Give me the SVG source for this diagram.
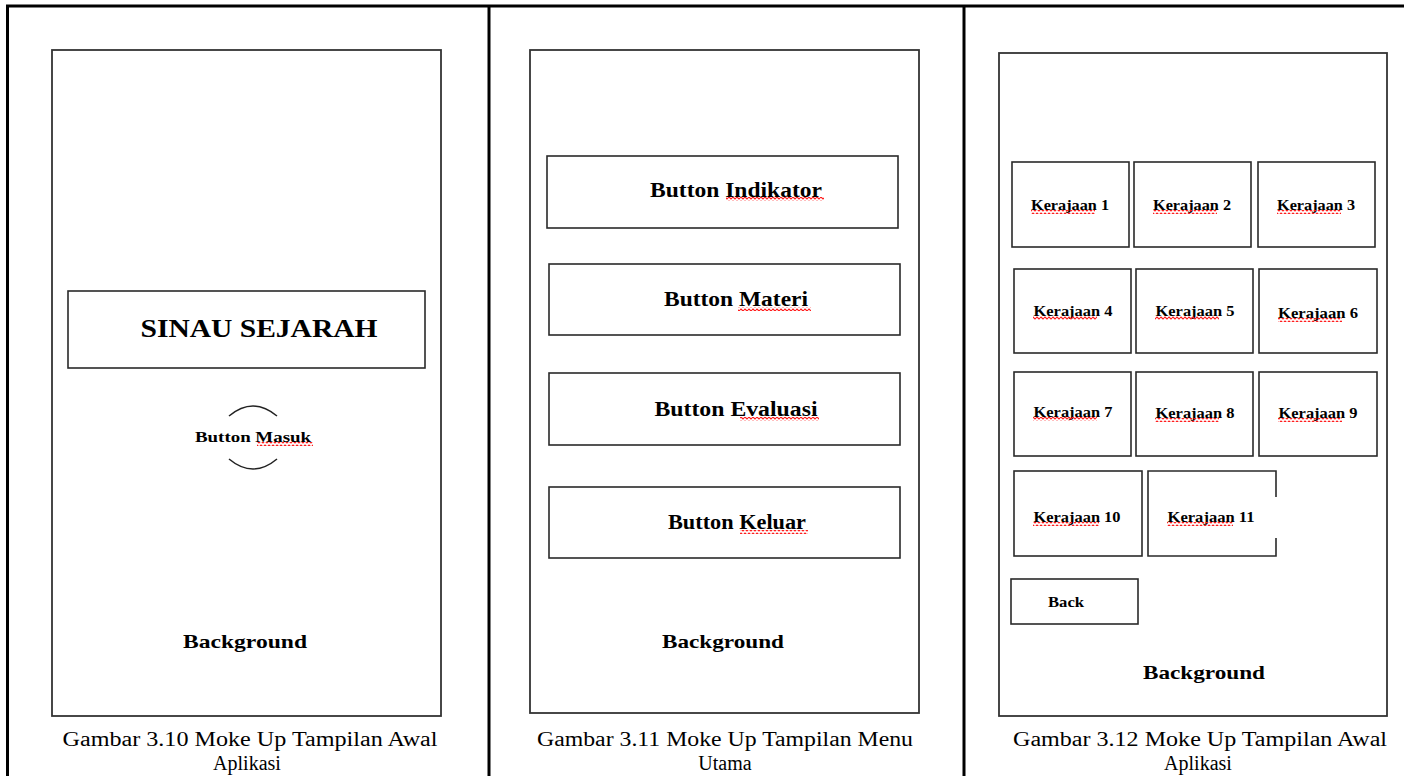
<svg xmlns="http://www.w3.org/2000/svg" width="1411" height="776" viewBox="0 0 1411 776">
<defs>
<pattern id="wavy" x="0" y="0" width="4" height="4" patternUnits="userSpaceOnUse">
<path d="M0 2 L1 1 L3 3 L4 2" fill="none" stroke="#ff1a1a" stroke-width="1.1"/>
</pattern>
</defs>
<style>
.tbl{stroke:#000;stroke-width:3;fill:none}
.phone{fill:#fff;stroke:#333;stroke-width:1.8}
.box{fill:#fff;stroke:#2a2a2a;stroke-width:1.6}
.arc{fill:none;stroke:#222;stroke-width:1.5}
.t{font-family:"Liberation Serif","Times New Roman",serif;fill:#000;text-anchor:middle}
.b{font-weight:bold}
.cap{font-size:20px}
.k{font-size:14px;font-weight:bold}
.wv{fill:url(#wavy)}
</style>
<rect width="1411" height="776" fill="#fff"/>
<g id="table">
<line class="tbl" x1="6" y1="6" x2="1404" y2="6"/>
<line class="tbl" x1="7.5" y1="5" x2="7.5" y2="776"/>
<line class="tbl" x1="489" y1="5" x2="489" y2="776"/>
<line class="tbl" x1="964" y1="5" x2="964" y2="776"/>
</g>

<g id="panel1">
<rect class="phone" x="52" y="50" width="389" height="666"/>
<g id="title1">
<rect class="box" x="68" y="291" width="357" height="77"/>
<text class="t b" x="259" y="337" font-size="25" textLength="237" lengthAdjust="spacingAndGlyphs">SINAU SEJARAH</text>
</g>
<g id="btn-masuk">
<path class="arc" d="M229 416 Q253 396 277 416"/>
<path class="arc" d="M229 459 Q253 479 277 459"/>
<text class="t b" x="253" y="442" font-size="15" textLength="116" lengthAdjust="spacingAndGlyphs">Button Masuk</text>
<rect class="wv" x="257" y="442" width="56" height="4"/>
</g>
<text class="t b" x="245" y="648" font-size="19" textLength="124" lengthAdjust="spacingAndGlyphs">Background</text>
<text class="t cap" x="250" y="746" textLength="375" lengthAdjust="spacingAndGlyphs">Gambar 3.10 Moke Up Tampilan Awal</text>
<text class="t cap" x="247" y="770">Aplikasi</text>
</g>

<g id="panel2">
<rect class="phone" x="530" y="50" width="389" height="663"/>
<g id="btn-indikator">
<rect class="box" x="547" y="156" width="351" height="72"/>
<text class="t b" x="736" y="197" font-size="20" textLength="172" lengthAdjust="spacingAndGlyphs">Button Indikator</text>
<rect class="wv" x="726" y="197" width="98" height="4"/>
</g>
<g id="btn-materi">
<rect class="box" x="549" y="264" width="351" height="71"/>
<text class="t b" x="736" y="306" font-size="20" textLength="144" lengthAdjust="spacingAndGlyphs">Button Materi</text>
<rect class="wv" x="738" y="307" width="73" height="4"/>
</g>
<g id="btn-evaluasi">
<rect class="box" x="549" y="373" width="351" height="72"/>
<text class="t b" x="736" y="416" font-size="20" textLength="163" lengthAdjust="spacingAndGlyphs">Button Evaluasi</text>
<rect class="wv" x="740" y="417" width="79" height="4"/>
</g>
<g id="btn-keluar">
<rect class="box" x="549" y="487" width="351" height="71"/>
<text class="t b" x="737" y="529" font-size="20" textLength="138" lengthAdjust="spacingAndGlyphs">Button Keluar</text>
<rect class="wv" x="740" y="530" width="68" height="4"/>
</g>
<text class="t b" x="723" y="648" font-size="19" textLength="122" lengthAdjust="spacingAndGlyphs">Background</text>
<text class="t cap" x="725" y="746" textLength="376" lengthAdjust="spacingAndGlyphs">Gambar 3.11 Moke Up Tampilan Menu</text>
<text class="t cap" x="725" y="770">Utama</text>
</g>

<g id="panel3">
<rect class="phone" x="999" y="53" width="388" height="663"/>
<g id="k1"><rect class="box" x="1012" y="162" width="117" height="85"/><text class="t k" x="1070" y="210" textLength="78" lengthAdjust="spacingAndGlyphs">Kerajaan 1</text><rect class="wv" x="1031" y="210" width="64" height="4"/></g>
<g id="k2"><rect class="box" x="1134" y="162" width="117" height="85"/><text class="t k" x="1192" y="210" textLength="78" lengthAdjust="spacingAndGlyphs">Kerajaan 2</text><rect class="wv" x="1153" y="210" width="64" height="4"/></g>
<g id="k3"><rect class="box" x="1258" y="162" width="117" height="85"/><text class="t k" x="1316" y="210" textLength="78" lengthAdjust="spacingAndGlyphs">Kerajaan 3</text><rect class="wv" x="1277" y="210" width="64" height="4"/></g>
<g id="k4"><rect class="box" x="1014" y="269" width="117" height="84"/><text class="t k" x="1073" y="316" textLength="79" lengthAdjust="spacingAndGlyphs">Kerajaan 4</text><rect class="wv" x="1033" y="316" width="64" height="4"/></g>
<g id="k5"><rect class="box" x="1136" y="269" width="117" height="84"/><text class="t k" x="1195" y="316" textLength="79" lengthAdjust="spacingAndGlyphs">Kerajaan 5</text><rect class="wv" x="1155" y="316" width="64" height="4"/></g>
<g id="k6"><rect class="box" x="1259" y="269" width="118" height="84"/><text class="t k" x="1318" y="318" textLength="80" lengthAdjust="spacingAndGlyphs">Kerajaan 6</text><rect class="wv" x="1278" y="318" width="64" height="4"/></g>
<g id="k7"><rect class="box" x="1014" y="372" width="117" height="84"/><text class="t k" x="1073" y="417" textLength="79" lengthAdjust="spacingAndGlyphs">Kerajaan 7</text><rect class="wv" x="1033" y="417" width="64" height="4"/></g>
<g id="k8"><rect class="box" x="1136" y="372" width="117" height="84"/><text class="t k" x="1195" y="418" textLength="79" lengthAdjust="spacingAndGlyphs">Kerajaan 8</text><rect class="wv" x="1155" y="418" width="64" height="4"/></g>
<g id="k9"><rect class="box" x="1259" y="372" width="118" height="84"/><text class="t k" x="1318" y="418" textLength="79" lengthAdjust="spacingAndGlyphs">Kerajaan 9</text><rect class="wv" x="1278" y="418" width="64" height="4"/></g>
<g id="k10"><rect class="box" x="1014" y="471" width="128" height="85"/><text class="t k" x="1077" y="522" textLength="87" lengthAdjust="spacingAndGlyphs">Kerajaan 10</text><rect class="wv" x="1033" y="522" width="66" height="4"/></g>
<g id="k11"><path class="box" fill="none" d="M1276 497 V471 H1148 V556 H1276 V538"/><text class="t k" x="1211" y="522" textLength="87" lengthAdjust="spacingAndGlyphs">Kerajaan 11</text><rect class="wv" x="1167" y="522" width="66" height="4"/></g>
<g id="back"><rect class="box" x="1011" y="579" width="127" height="45"/><text class="t b" x="1066" y="607" font-size="14" textLength="36" lengthAdjust="spacingAndGlyphs">Back</text></g>
<text class="t b" x="1204" y="679" font-size="19" textLength="122" lengthAdjust="spacingAndGlyphs">Background</text>
<text class="t cap" x="1200" y="746" textLength="374" lengthAdjust="spacingAndGlyphs">Gambar 3.12 Moke Up Tampilan Awal</text>
<text class="t cap" x="1198" y="770">Aplikasi</text>
</g>
</svg>
